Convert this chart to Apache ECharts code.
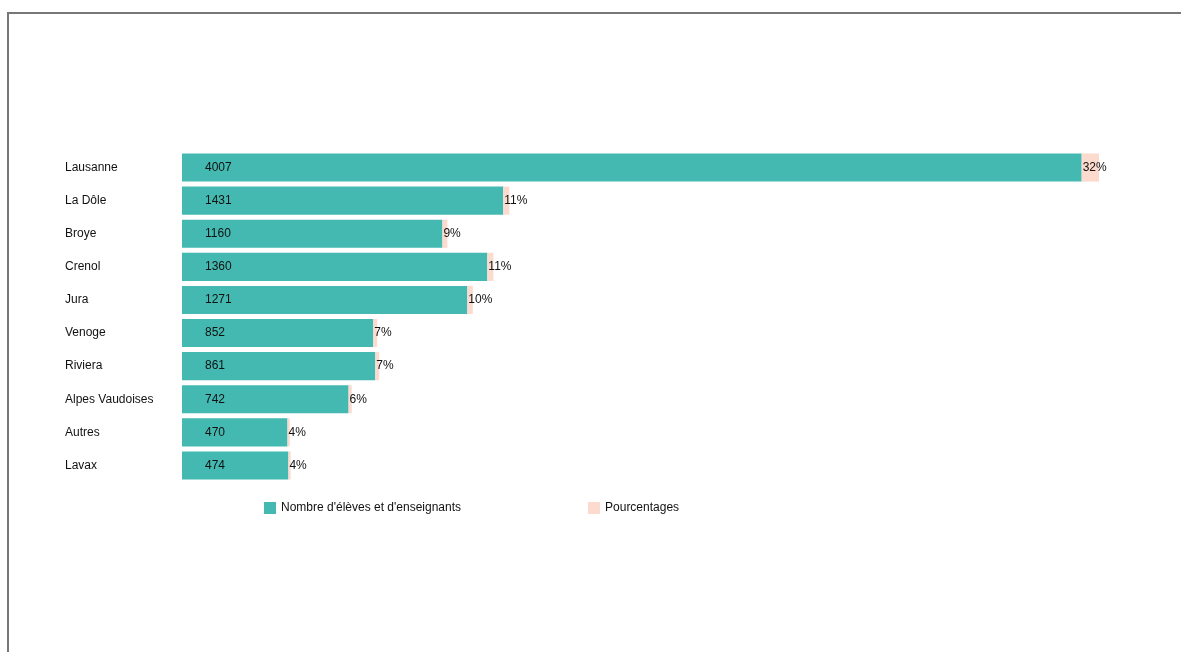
<!DOCTYPE html>
<html><head><meta charset="utf-8">
<script src="https://cdn.jsdelivr.net/npm/echarts@6/dist/echarts.min.js"></script>
<style>
html,body{margin:0;padding:0;background:#fff;overflow:hidden;}
#frame{position:absolute;left:7px;top:12px;width:1300px;height:800px;border-left:2px solid #777;border-top:2px solid #777;}
#chart{position:absolute;left:0;top:0;width:1181px;height:652px;}
</style></head>
<body>
<div id="frame"></div>
<div id="chart"></div>
<script>
const categories = ["Lausanne","La Dôle","Broye","Crenol","Jura","Venoge","Riviera","Alpes Vaudoises","Autres","Lavax"];
const counts = [4007,1431,1160,1360,1271,852,861,742,470,474];
const pctLabels = ["32%","11%","9%","11%","10%","7%","7%","6%","4%","4%"];
const pctBarLen = [77,27,22,27,24,17,17,14,10,10];
const seriesNames = ["Nombre d'élèves et d'enseignants","Pourcentages"];

const chart = echarts.init(document.getElementById('chart'), null, {renderer:'canvas'});
const font = "'Liberation Sans', Arial, sans-serif";
chart.setOption({
  animation:false,
  textStyle:{fontFamily:font},
  color:['#43b9b1','#fcdacd'],
  grid:{left:182,right:56,top:151,height:331,containLabel:false},
  xAxis:{type:'value',min:0,max:4200,show:false},
  yAxis:{type:'category',data:categories,inverse:true,
    axisLine:{show:false},axisTick:{show:false},splitLine:{show:false},
    axisLabel:{align:'left',margin:117,color:'#111',fontSize:12,fontFamily:font}},
  legend:{left:259,top:497,itemWidth:12,itemHeight:12,itemGap:127,icon:'rect',
    textStyle:{color:'#111',fontSize:12,fontFamily:font},
    data:seriesNames},
  series:[
    {name:seriesNames[0],type:'bar',stack:'s',barCategoryGap:'15%',data:counts,
     label:{show:true,position:'insideLeft',distance:23,color:'#111',fontSize:12,fontFamily:font}},
    {name:seriesNames[1],type:'bar',stack:'s',barCategoryGap:'15%',data:pctBarLen,
     label:{show:true,position:'insideLeft',distance:1,color:'#111',fontSize:12,fontFamily:font,
       formatter:p=>pctLabels[p.dataIndex]}}
  ]
});
</script>
</body></html>
